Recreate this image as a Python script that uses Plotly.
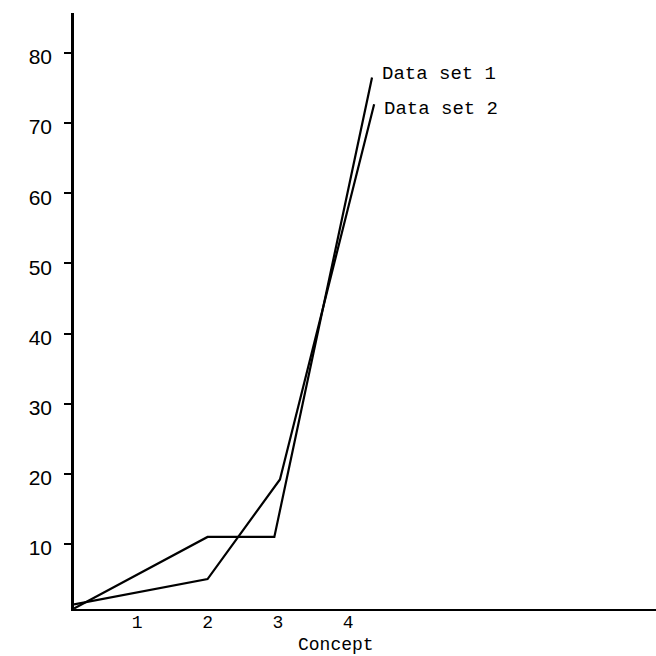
import plotly.graph_objects as go

# Concept scores for the two data sets
concept_1 = [0.1, 2.0, 2.95, 4.34]
values_1 = [0.8, 11.0, 11.0, 76.5]

concept_2 = [0.1, 2.0, 3.03, 4.37]
values_2 = [1.4, 5.0, 19.2, 72.7]

series_names = ["Data set 1", "Data set 2"]
x_ticks = [1, 2, 3, 4]
y_ticks = [10, 20, 30, 40, 50, 60, 70, 80]
x_title = "Concept"

mono = "Liberation Mono, Courier New, monospace"
sans = "Liberation Sans, Arial, sans-serif"

fig = go.Figure()
for xs, ys, name in [(concept_1, values_1, series_names[0]),
                     (concept_2, values_2, series_names[1])]:
    fig.add_trace(go.Scatter(
        x=xs, y=ys, mode="lines", name=name,
        line=dict(color="black", width=2.2),
        hoverinfo="skip",
    ))

# labels at the end of each curve
for xs, ys, name, shift in [(concept_1, values_1, series_names[0], 4),
                            (concept_2, values_2, series_names[1], -5)]:
    fig.add_annotation(
        x=xs[-1], y=ys[-1], text=name, showarrow=False,
        xanchor="left", yanchor="middle", xshift=8, yshift=shift,
        font=dict(family=mono, size=19, color="black"),
    )

# axis title, set a little left of the plot centre
fig.add_annotation(
    x=3.83, y=0, xref="x", yref="paper", text=x_title, showarrow=False,
    xanchor="center", yanchor="middle", yshift=-36,
    font=dict(family=mono, size=18, color="black"),
)

fig.update_layout(
    width=656, height=656,
    margin=dict(l=74, r=0, t=13, b=47),
    paper_bgcolor="white", plot_bgcolor="white",
    showlegend=False,
    xaxis=dict(
        range=[0.1, 8.38], showgrid=False, zeroline=False,
        showline=True, linecolor="black", linewidth=2,
        tickmode="array", tickvals=x_ticks,
        ticktext=[str(v) for v in x_ticks],
        ticks="", ticklabelstandoff=-5,
        tickfont=dict(family=mono, size=18, color="black"),
        fixedrange=True,
    ),
    yaxis=dict(
        range=[0.73, 85.7], showgrid=False, zeroline=False,
        showline=True, linecolor="black", linewidth=2.5,
        tickmode="array", tickvals=y_ticks,
        ticktext=[str(v) for v in y_ticks],
        ticks="outside", ticklen=7, tickwidth=2, tickcolor="black",
        ticklabelstandoff=8, ticklabelshift=4,
        tickfont=dict(family=sans, size=21, color="black"),
        fixedrange=True,
    ),
)

fig.write_html("out.html")
